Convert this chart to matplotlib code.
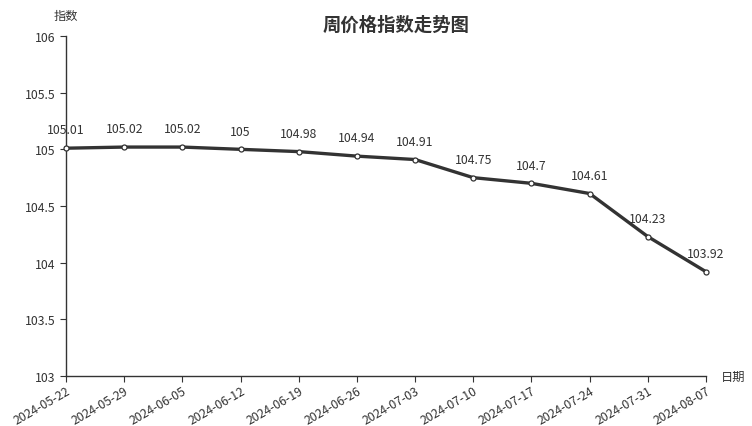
import matplotlib
matplotlib.use("Agg")
import matplotlib.pyplot as plt

plt.rcParams['font.family'] = ['Noto Sans CJK SC', 'DejaVu Sans']

dates = ["2024-05-22", "2024-05-29", "2024-06-05", "2024-06-12", "2024-06-19", "2024-06-26",
         "2024-07-03", "2024-07-10", "2024-07-17", "2024-07-24", "2024-07-31", "2024-08-07"]
values = [105.01, 105.02, 105.02, 105.0, 104.98, 104.94, 104.91, 104.75, 104.7, 104.61, 104.23, 103.92]
labels = ["105.01", "105.02", "105.02", "105", "104.98", "104.94", "104.91", "104.75", "104.7", "104.61", "104.23", "103.92"]
yticks = [103, 103.5, 104, 104.5, 105, 105.5, 106]
ytick_labels = ["103", "103.5", "104", "104.5", "105", "105.5", "106"]

fig = plt.figure(figsize=(7.52, 4.27), dpi=100)
ax = fig.add_axes([66/752, 1-377/427, 640/752, 340/427])
x = list(range(len(dates)))
ax.plot(x, values, color="#333333", lw=2.4, marker="o", ms=3.6,
        markerfacecolor="white", markeredgecolor="#333333", markeredgewidth=0.9, zorder=3, clip_on=False)
for xi, v, t in zip(x, values, labels):
    ax.annotate(t, (xi, v), xytext=(0, 8.5), textcoords="offset points", ha="center", va="bottom",
                fontsize=8.8, color="#333333")
ax.set_xlim(0, len(dates)-1)
ax.set_ylim(103, 106)
ax.set_yticks(yticks)
ax.set_yticklabels(ytick_labels)
ax.set_xticks(x)
ax.set_xticklabels(dates, rotation=30, ha="right", rotation_mode="anchor")
for s in ["top", "right"]:
    ax.spines[s].set_visible(False)
for s in ["left", "bottom"]:
    ax.spines[s].set_color("#333333")
    ax.spines[s].set_linewidth(1.0)
ax.tick_params(axis="both", colors="#333333", labelsize=8.8, length=4, width=0.8, labelcolor="#333333")
ax.tick_params(axis="x", pad=2)
fig.text(66/752, 1-16/427, "指数", ha="center", va="center", fontsize=8.8, color="#333333")
fig.text(733/752, 1-377/427, "日期", ha="center", va="center", fontsize=8.8, color="#333333")
fig.text(396/752, 1-25/427, "周价格指数走势图", ha="center", va="center", fontsize=13.2,
         fontweight="bold", color="#333333")
fig.savefig("out.png", dpi=100)
